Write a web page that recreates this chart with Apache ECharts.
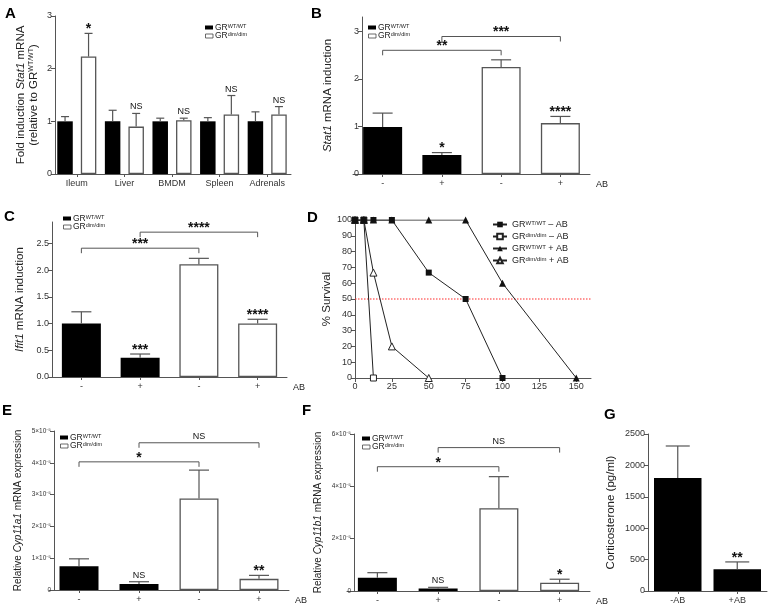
<!DOCTYPE html>
<html><head><meta charset="utf-8">
<script src="https://cdn.jsdelivr.net/npm/echarts@6/dist/echarts.min.js"></script>
<style>html,body{margin:0;padding:0;background:#fff}#c{width:768px;height:612px}</style>
</head><body><div id="c"></div>
<script>
// ================= DATA =================
// Panel A
const aCats = ['Ileum','Liver','BMDM','Spleen','Adrenals'];
const aWT = [1.00,1.00,1.00,1.00,1.00];
const aWTErr = [1.09,1.21,1.06,1.07,1.18];
const aDim = [2.23,0.90,1.02,1.13,1.13];
const aDimErr = [2.67,1.15,1.06,1.49,1.28];
const aSig = ['*','NS','NS','NS','NS'];

// shared four-group layout (B, C, E, F)
const abCats = ['-','+','-','+'];
const abGroup = [0,0,1,1];           // 0 = GR WT/WT, 1 = GR dim/dim

// Panel B (Stat1)
const bVals = [0.99,0.40,2.25,1.07];
const bErr  = [1.28,0.45,2.40,1.21];
const bSig  = ['','*','','****'];
const bBrFrom = [0,1], bBrTo = [2,3], bBrY = [2.60,2.89], bBrLab = ['**','***'];

// Panel C (Ifit1)
const cVals = [1.00,0.36,2.11,1.00];
const cErr  = [1.22,0.43,2.22,1.08];
const cSig  = ['','***','','****'];
const cBrFrom = [0,1], cBrTo = [2,3], cBrY = [2.41,2.71], cBrLab = ['***','****'];

// Panel D (survival)
const dWTnoAB_x = [0,6,12.5,25,50,75,100];
const dWTnoAB_y = [100,100,100,100,66.7,50,0];
const dDimNoAB_x = [0,6,12.5];
const dDimNoAB_y = [100,100,0];
const dWTAB_x = [0,6,12.5,25,50,75,100,150];
const dWTAB_y = [100,100,100,100,100,100,60,0];
const dDimAB_x = [0,6,12.5,25,50];
const dDimAB_y = [100,100,66.7,20,0];
const dHalf = 50;
const dXMax = 160;

// Panel E (Cyp11a1)
const eVals = [0.75e-5,0.19e-5,2.88e-5,0.35e-5];
const eErr  = [0.98e-5,0.26e-5,3.77e-5,0.46e-5];
const eSig  = ['','NS','','**'];
const eBrFrom = [0,1], eBrTo = [2,3], eBrY = [4.03e-5,4.63e-5], eBrLab = ['*','NS'];

// Panel F (Cyp11b1)
const fVals = [0.51e-5,0.10e-5,3.16e-5,0.32e-5];
const fErr  = [0.70e-5,0.14e-5,4.37e-5,0.45e-5];
const fSig  = ['','NS','','*'];
const fBrFrom = [0,1], fBrTo = [2,3], fBrY = [4.75e-5,5.48e-5], fBrLab = ['*','NS'];

// Panel G (corticosterone)
const gCats = ['-AB','+AB'];
const gGroup = [0,0];
const gVals = [1800,346];
const gErr  = [2309,463];
const gSig  = ['','**'];

// ================= STYLE / HELPERS =================
const FONT = '"Liberation Sans", Arial, Helvetica, sans-serif';
const AXC = '#555';
const TXT = '#222';
const BAR_STYLE = [
  {color:'#000', borderColor:'#000', borderWidth:0},
  {color:'#fff', borderColor:'#555', borderWidth:1.3}
];
function richWith(size){
  return {
    i:{fontStyle:'italic', fontSize:size, fontFamily:FONT, color:TXT},
    s:{fontSize:Math.round(size*0.6), verticalAlign:'top', fontFamily:FONT, color:TXT}
  };
}

function sciFmt(v){
  if (v === 0) return '0';
  const m = Math.round(v*1e5);
  return m + '×10⁻⁵';
}
function plainFmt(v){ return String(v); }

function yAx(gi, max, interval, o){
  o = o || {};
  return {
    type:'value', gridIndex:gi, min:0, max:max, interval:interval,
    offset:o.offset || 0,
    name:o.name, nameLocation:'middle', nameGap:o.nameGap,
    nameTextStyle:{fontSize:o.nameSize||11.5, color:TXT, fontFamily:FONT, lineHeight:(o.nameSize||11.5)+2, rich:richWith(o.nameSize||11.5)},
    axisLine:{show:true, lineStyle:{color:AXC, width:1}},
    axisTick:{show:true, length:4, lineStyle:{color:AXC}},
    splitLine:{show:false},
    axisLabel:{fontSize:o.labelSize||9, color:'#333', fontFamily:FONT, margin:3,
               showMaxLabel: o.showMax !== undefined ? o.showMax : true,
               formatter:o.fmt || plainFmt},
  };
}
function xCat(gi, cats, o){
  o = o || {};
  return {
    type:'category', gridIndex:gi, data:cats,
    name:o.name || '', nameLocation:'end', nameGap:o.nameGap||6,
    nameTextStyle:{fontSize:9, color:TXT, fontFamily:FONT, verticalAlign:'top', padding:[6,0,0,0]},
    axisLine:{show:true, onZero:false, lineStyle:{color:AXC, width:1}},
    axisTick:{show:true, alignWithLabel:true, length:3, lineStyle:{color:AXC}},
    axisLabel:{fontSize:o.labelSize||9, color:'#333', fontFamily:FONT, margin:5, interval:0},
    splitLine:{show:false}
  };
}

function errSeries(gi, vals, errs, shift, cap){
  return {
    type:'custom', xAxisIndex:gi, yAxisIndex:gi, silent:true, animation:false, z:3, clip:false,
    data: vals.map((v,i)=>[i, v, errs[i]]),
    encode:{x:0, y:[1,2]},
    renderItem:(p, api)=>{
      const lo = api.coord([api.value(0), api.value(1)]);
      const hi = api.coord([api.value(0), api.value(2)]);
      const x = lo[0] + shift;
      return {type:'group', children:[
        {type:'line', shape:{x1:x, y1:lo[1], x2:x, y2:hi[1]}, style:{stroke:'#555', lineWidth:1.2}},
        {type:'line', shape:{x1:x-cap/2, y1:hi[1], x2:x+cap/2, y2:hi[1]}, style:{stroke:'#555', lineWidth:1.2}}
      ]};
    }
  };
}
function sigSeries(gi, errs, sig, shift){
  return {
    type:'custom', xAxisIndex:gi, yAxisIndex:gi, silent:true, animation:false, z:4, clip:false,
    data: errs.map((e,i)=>[i, e]),
    encode:{x:0, y:1},
    renderItem:(p, api)=>{
      const t = sig[p.dataIndex];
      if (!t) return null;
      const pt = api.coord([api.value(0), api.value(1)]);
      const star = t.indexOf('*') >= 0;
      return {type:'text', x:pt[0]+shift, y:pt[1] - (star ? -3 : 2),
        style:{text:t, textAlign:'center', textVerticalAlign:'bottom',
               fontSize: star ? 14 : 9, fontWeight: star ? 'bold' : 'normal',
               fontFamily:FONT, fill:'#111'}};
    }
  };
}
function bracketSeries(gi, from, to, ys, labs){
  return {
    type:'custom', xAxisIndex:gi, yAxisIndex:gi, silent:true, animation:false, z:4, clip:false,
    data: from.map((f,i)=>[f, to[i], ys[i]]),
    encode:{x:[0,1], y:2},
    renderItem:(p, api)=>{
      const t = labs[p.dataIndex];
      const p1 = api.coord([api.value(0), api.value(2)]);
      const p2 = api.coord([api.value(1), api.value(2)]);
      const star = t.indexOf('*') >= 0;
      return {type:'group', children:[
        {type:'polyline', shape:{points:[[p1[0],p1[1]+5],[p1[0],p1[1]],[p2[0],p2[1]],[p2[0],p2[1]+5]]},
         style:{stroke:'#555', lineWidth:1, fill:null}},
        {type:'text', x:(p1[0]+p2[0])/2, y:p1[1] - (star ? -3 : 2),
         style:{text:t, textAlign:'center', textVerticalAlign:'bottom',
                fontSize: star ? 14 : 9, fontWeight: star ? 'bold' : 'normal',
                fontFamily:FONT, fill:'#111'}}
      ]};
    }
  };
}
function barSeries(gi, vals, groups, barW){
  return {type:'bar', xAxisIndex:gi, yAxisIndex:gi, barWidth:barW, animation:false, z:2,
    data: vals.map((v,i)=>({value:v, itemStyle:BAR_STYLE[groups[i]]}))};
}

function barLegend(x, y){
  return {type:'group', left:x, top:y, children:[
    {type:'rect', shape:{x:0, y:0, width:8, height:4}, style:{fill:'#000'}},
    {type:'text', x:10, y:2, style:{text:'GR{s|WT/WT}', fontSize:8.5, fontFamily:FONT, fill:TXT,
       textVerticalAlign:'middle', rich:{s:{fontSize:5.5, verticalAlign:'top', fontFamily:FONT, fill:TXT}}}},
    {type:'rect', shape:{x:0.5, y:8.5, width:7.5, height:4}, style:{fill:'#fff', stroke:'#444', lineWidth:0.8}},
    {type:'text', x:10, y:10.5, style:{text:'GR{s|dim/dim}', fontSize:8.5, fontFamily:FONT, fill:TXT,
       textVerticalAlign:'middle', rich:{s:{fontSize:5.5, verticalAlign:'top', fontFamily:FONT, fill:TXT}}}}
  ]};
}
function panelLetter(t, x, y){
  return {type:'text', left:x, top:y, style:{text:t, fontSize:15, fontWeight:'bold', fontFamily:FONT, fill:'#000'}};
}

// ================= OPTION =================
const grids = [
  {left:53,  top:16,  width:238, height:158},  // A
  {left:353, top:17,  width:237, height:157},  // B
  {left:52,  top:222, width:235, height:155},  // C
  {left:355, top:220, width:236, height:158},  // D
  {left:49,  top:431, width:240, height:159},  // E
  {left:347, top:434, width:243, height:157},  // F
  {left:648, top:434, width:119, height:157}   // G
].map(g => Object.assign({outerBoundsMode:'none', containLabel:false}, g));

const xAxes = [
  xCat(0, aCats),
  xCat(1, abCats, {name:'AB'}),
  xCat(2, abCats, {name:'AB'}),
  {type:'value', gridIndex:3, min:0, max:dXMax, interval:25,
   axisLine:{show:true, onZero:false, lineStyle:{color:AXC}}, axisTick:{length:4, lineStyle:{color:AXC}},
   splitLine:{show:false},
   axisLabel:{fontSize:9, color:'#333', fontFamily:FONT, margin:4, showMaxLabel:false, formatter:plainFmt}},
  xCat(4, abCats, {name:'AB'}),
  xCat(5, abCats, {name:'AB'}),
  xCat(6, gCats)
];
const yAxes = [
  yAx(0, 3, 1, {name:'Fold induction {i|Stat1} mRNA\n(relative to GR{s|WT/WT})', nameGap:14, nameSize:11.5, offset:-2}),
  yAx(1, 3.3, 1, {name:'{i|Stat1} mRNA induction', nameGap:27, nameSize:11.5, offset:-9, showMax:false}),
  yAx(2, 2.9, 0.5, {name:'{i|Ifit1} mRNA induction', nameGap:25, nameSize:11.5, showMax:false, fmt:v=>v.toFixed(1)}),
  yAx(3, 100, 10, {name:'% Survival', nameGap:18, nameSize:11.5}),
  yAx(4, 5e-5, 1e-5, {name:'Relative {i|Cyp11a1} mRNA expression', nameGap:30, nameSize:10, offset:-5, labelSize:6.5, fmt:sciFmt}),
  yAx(5, 6e-5, 2e-5, {name:'Relative {i|Cyp11b1} mRNA expression', nameGap:30, nameSize:10, offset:-7, labelSize:6.5, fmt:sciFmt}),
  yAx(6, 2500, 500, {name:'Corticosterone (pg/ml)', nameGap:30, nameSize:11.5})
];

const series = [];
// A
series.push({type:'bar', name:'A-WT', xAxisIndex:0, yAxisIndex:0, barWidth:15.5, barGap:'52%', animation:false, z:2,
  data:aWT, itemStyle:BAR_STYLE[0]});
series.push({type:'bar', name:'A-dim', xAxisIndex:0, yAxisIndex:0, barWidth:15.5, barGap:'52%', animation:false, z:2,
  data:aDim, itemStyle:BAR_STYLE[1]});
series.push(errSeries(0, aWT, aWTErr, -11.75, 8));
series.push(errSeries(0, aDim, aDimErr, 11.75, 8));
series.push(sigSeries(0, aDimErr, aSig, 11.75));
// B
series.push(barSeries(1, bVals, abGroup, 39));
series.push(errSeries(1, bVals, bErr, 0, 20));
series.push(sigSeries(1, bErr, bSig, 0));
series.push(bracketSeries(1, bBrFrom, bBrTo, bBrY, bBrLab));
// C
series.push(barSeries(2, cVals, abGroup, 39));
series.push(errSeries(2, cVals, cErr, 0, 20));
series.push(sigSeries(2, cErr, cSig, 0));
series.push(bracketSeries(2, cBrFrom, cBrTo, cBrY, cBrLab));
// D
const dNames = ['WT-noAB','dim-noAB','WT-AB','dim-AB'];
const dLabels = ['GR{s|WT/WT} – AB','GR{s|dim/dim} – AB','GR{s|WT/WT} + AB','GR{s|dim/dim} + AB'];
function zip(xs, ys){ return xs.map((x,i)=>[x, ys[i]]); }
const dLine = {color:'#222', width:1};
// 50 % survival reference line (red dotted)
series.push({type:'custom', xAxisIndex:3, yAxisIndex:3, silent:true, animation:false, z:2, clip:false,
  data:[[0, dXMax, dHalf]], encode:{x:[0,1], y:2},
  renderItem:(p, api)=>{
    const a = api.coord([api.value(0), api.value(2)]);
    const b = api.coord([api.value(1), api.value(2)]);
    return {type:'line', shape:{x1:a[0], y1:a[1], x2:b[0], y2:b[1]},
      style:{stroke:'#ff2a2a', lineWidth:1.1, lineDash:[1.5,1.5]}};
  }});
series.push({type:'line', name:dNames[1], xAxisIndex:3, yAxisIndex:3, animation:false, z:3,
  symbol:'rect', symbolSize:6, data:zip(dDimNoAB_x, dDimNoAB_y), lineStyle:dLine,
  itemStyle:{color:'#fff', borderColor:'#222', borderWidth:1}});
series.push({type:'line', name:dNames[3], xAxisIndex:3, yAxisIndex:3, animation:false, z:3,
  symbol:'triangle', symbolSize:7, data:zip(dDimAB_x, dDimAB_y), lineStyle:dLine,
  itemStyle:{color:'#fff', borderColor:'#222', borderWidth:1}});
series.push({type:'line', name:dNames[2], xAxisIndex:3, yAxisIndex:3, animation:false, z:4,
  symbol:'triangle', symbolSize:7, data:zip(dWTAB_x, dWTAB_y), lineStyle:dLine,
  itemStyle:{color:'#111', borderColor:'#111', borderWidth:0}});
series.push({type:'line', name:dNames[0], xAxisIndex:3, yAxisIndex:3, animation:false, z:5,
  symbol:'rect', symbolSize:6, data:zip(dWTnoAB_x, dWTnoAB_y), lineStyle:dLine,
  itemStyle:{color:'#111', borderColor:'#111', borderWidth:0}});
// E
series.push(barSeries(4, eVals, abGroup, 39));
series.push(errSeries(4, eVals, eErr, 0, 20));
series.push(sigSeries(4, eErr, eSig, 0));
series.push(bracketSeries(4, eBrFrom, eBrTo, eBrY, eBrLab));
// F
series.push(barSeries(5, fVals, abGroup, 39));
series.push(errSeries(5, fVals, fErr, 0, 20));
series.push(sigSeries(5, fErr, fSig, 0));
series.push(bracketSeries(5, fBrFrom, fBrTo, fBrY, fBrLab));
// G
series.push(barSeries(6, gVals, gGroup, 47.5));
series.push(errSeries(6, gVals, gErr, 0, 24));
series.push(sigSeries(6, gErr, gSig, 0));

const option = {
  backgroundColor:'#fff',
  animation:false,
  textStyle:{fontFamily:FONT},
  grid:grids, xAxis:xAxes, yAxis:yAxes, series:series,
  legend:[{
    data:[dNames[0], dNames[1], dNames[2], dNames[3]],
    orient:'vertical', left:492, top:220, itemWidth:14, itemHeight:7, itemGap:3,
    selectedMode:false, padding:0,
    textStyle:{fontSize:9, color:TXT, fontFamily:FONT, rich:{s:{fontSize:6, verticalAlign:'top', fontFamily:FONT, color:TXT}}},
    formatter: n => dLabels[dNames.indexOf(n)]
  }],
  graphic:[
    panelLetter('A', 5, 6), panelLetter('B', 311, 6),
    panelLetter('C', 4, 209), panelLetter('D', 307, 210),
    panelLetter('E', 2, 403), panelLetter('F', 302, 403), panelLetter('G', 604, 407),
    barLegend(205, 23), barLegend(368, 23), barLegend(63, 214),
    barLegend(60, 433), barLegend(362, 434)
  ]
};
const chart = echarts.init(document.getElementById('c'), null, {width:768, height:612});
chart.setOption(option);
</script>
</body></html>
